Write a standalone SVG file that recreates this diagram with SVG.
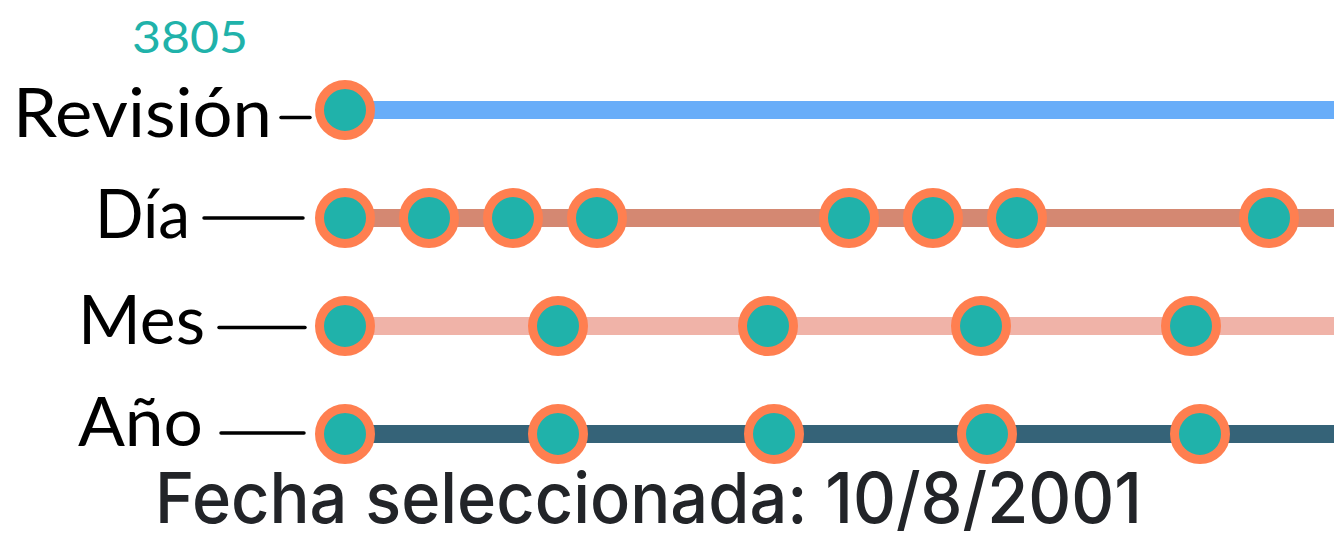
<svg xmlns="http://www.w3.org/2000/svg" width="1334" height="550" viewBox="0 0 1334 550">
<style>
.lbl{font-family:Lato,"Liberation Sans",sans-serif;font-size:68px;fill:#000;text-anchor:end}
.tick{stroke:#000;stroke-width:3.5;stroke-linecap:round}
.dot{fill:#20b2aa;stroke:#ff7f50;stroke-width:9}
.track{stroke-width:18}
</style>
<rect width="1334" height="550" fill="#fff"/>
<text x="190" y="53" font-family="Lato,'Liberation Sans',sans-serif" font-size="44" fill="#20b2aa" text-anchor="middle" textLength="116" lengthAdjust="spacingAndGlyphs">3805</text>
<g id="connectors">
<line class="track" x1="345" y1="110" x2="1334" y2="110" stroke="#68adf9"/>
<line class="track" x1="345" y1="218" x2="1334" y2="218" stroke="#d48872"/>
<line class="track" x1="345" y1="326" x2="1334" y2="326" stroke="#f0b3a8"/>
<line class="track" x1="345" y1="434" x2="1334" y2="434" stroke="#356378"/>
<line class="tick" x1="281" y1="117.5" x2="310" y2="117.5"/>
<line class="tick" x1="204" y1="218" x2="303" y2="218"/>
<line class="tick" x1="219" y1="327.5" x2="305" y2="327.5"/>
<line class="tick" x1="221" y1="433" x2="304" y2="433"/>
</g>
<g id="revision">
<text class="lbl" x="272" y="137" textLength="259" lengthAdjust="spacingAndGlyphs">Revisión</text>
<circle class="dot" cx="345" cy="110" r="25.5"/>
</g>
<g id="dia">
<text class="lbl" x="190" y="238" textLength="95" lengthAdjust="spacingAndGlyphs">Día</text>
<circle class="dot" cx="345" cy="218" r="25.5"/>
<circle class="dot" cx="429" cy="218" r="25.5"/>
<circle class="dot" cx="513" cy="218" r="25.5"/>
<circle class="dot" cx="597" cy="218" r="25.5"/>
<circle class="dot" cx="849" cy="218" r="25.5"/>
<circle class="dot" cx="933" cy="218" r="25.5"/>
<circle class="dot" cx="1017" cy="218" r="25.5"/>
<circle class="dot" cx="1269" cy="218" r="25.5"/>
</g>
<g id="mes">
<text class="lbl" x="205" y="344" textLength="127" lengthAdjust="spacingAndGlyphs">Mes</text>
<circle class="dot" cx="345" cy="326" r="25.5"/>
<circle class="dot" cx="558" cy="326" r="25.5"/>
<circle class="dot" cx="768" cy="326" r="25.5"/>
<circle class="dot" cx="981" cy="326" r="25.5"/>
<circle class="dot" cx="1191" cy="326" r="25.5"/>
</g>
<g id="anio">
<text class="lbl" x="203" y="446" textLength="125" lengthAdjust="spacingAndGlyphs">Año</text>
<circle class="dot" cx="345" cy="434" r="25.5"/>
<circle class="dot" cx="558" cy="434" r="25.5"/>
<circle class="dot" cx="774" cy="434" r="25.5"/>
<circle class="dot" cx="987" cy="434" r="25.5"/>
<circle class="dot" cx="1200" cy="434" r="25.5"/>
</g>
<text x="155" y="523" font-family="Inter,'Liberation Sans',sans-serif" font-size="70" font-weight="500" fill="#222428" textLength="987" lengthAdjust="spacingAndGlyphs">Fecha seleccionada: 10/8/2001</text>
</svg>
